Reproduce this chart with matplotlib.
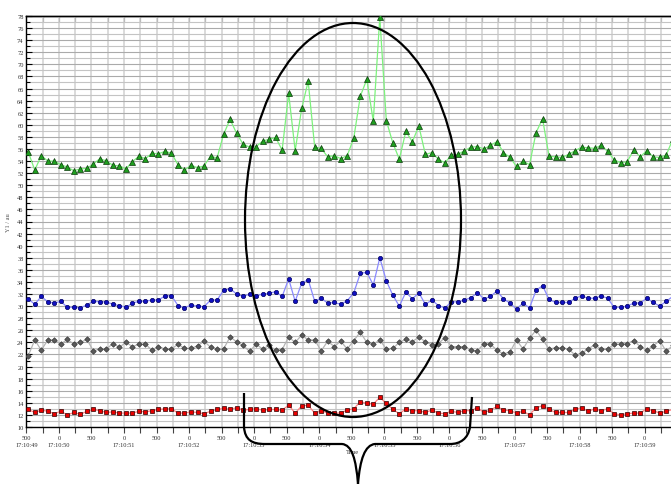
import numpy as np
import matplotlib
matplotlib.use("Agg")
import matplotlib.pyplot as plt
from matplotlib.patches import Ellipse, PathPatch
from matplotlib.path import Path
from matplotlib.transforms import Affine2D
from matplotlib.ticker import MultipleLocator

# sample times in seconds after 17:10:00, one sample every 100 ms
t0 = 49.53
dt = 0.1

green = [55.5, 52.5, 54.9, 54.0, 54.0, 53.4, 53.0, 52.4, 52.7, 52.8,
         53.5, 54.4, 54.0, 53.3, 53.2, 52.7, 53.9, 54.8, 54.4, 55.3,
         55.2, 55.6, 55.3, 53.4, 52.5, 53.3, 52.9, 53.2, 54.8, 54.5,
         58.4, 60.9, 58.6, 56.8, 56.3, 56.4, 57.3, 57.6, 57.9, 55.8,
         65.2, 55.7, 62.7, 67.2, 56.3, 56.1, 54.7, 54.9, 54.4, 54.9,
         57.8, 64.7, 67.5, 60.6, 77.8, 60.7, 57.0, 54.3, 58.9, 57.2,
         59.8, 55.1, 55.4, 54.3, 53.7, 55.0, 55.1, 55.7, 56.3, 56.4,
         56.0, 56.6, 57.2, 55.4, 54.6, 53.1, 54.0, 53.4, 58.7, 61.0,
         54.8, 54.7, 54.6, 55.1, 55.7, 56.3, 56.2, 56.1, 56.6, 55.6,
         54.2, 53.7, 53.9, 55.8, 54.7, 55.7, 54.7, 54.6, 55.0, 57.6]

blue = [31.2, 30.3, 31.6, 30.7, 30.5, 30.8, 29.8, 29.8, 29.7, 30.2,
        30.8, 30.7, 30.7, 30.3, 30.1, 29.8, 30.5, 30.8, 30.8, 31.0,
        31.0, 31.7, 31.7, 30.1, 29.7, 30.2, 30.0, 29.9, 31.0, 31.0,
        32.6, 32.9, 32.0, 31.6, 32.0, 31.7, 32.0, 32.1, 32.4, 31.6,
        34.5, 30.8, 33.8, 34.4, 30.8, 31.3, 30.5, 30.6, 30.3, 30.9,
        32.2, 35.4, 35.6, 33.5, 38.0, 34.2, 31.8, 30.0, 32.3, 31.2,
        32.2, 30.3, 31.0, 30.1, 29.7, 30.7, 30.7, 31.0, 31.4, 32.2,
        31.2, 31.6, 32.5, 31.2, 30.5, 29.5, 30.5, 29.7, 32.6, 33.4,
        31.1, 30.6, 30.6, 30.6, 31.3, 31.7, 31.3, 31.3, 31.7, 31.3,
        29.8, 29.8, 30.0, 30.5, 30.5, 31.3, 30.6, 30.0, 30.8, 31.6]

gray = [21.8, 24.4, 22.7, 24.4, 24.4, 23.7, 24.5, 23.7, 24.0, 24.5,
        22.6, 22.9, 22.9, 23.8, 23.2, 24.0, 23.3, 23.7, 23.7, 22.7,
        23.3, 22.9, 22.9, 23.7, 23.0, 23.0, 23.4, 24.2, 23.2, 22.9,
        22.9, 24.9, 24.1, 23.5, 22.5, 23.7, 22.9, 23.5, 22.7, 22.8,
        24.9, 24.0, 25.2, 24.4, 24.4, 22.6, 24.2, 23.3, 24.2, 22.9,
        24.3, 25.7, 24.0, 23.7, 24.4, 22.9, 23.0, 24.0, 24.5, 24.1,
        24.9, 24.1, 23.6, 23.8, 24.8, 23.3, 23.3, 23.3, 22.7, 22.6,
        23.8, 23.7, 22.7, 22.1, 22.4, 24.4, 22.9, 24.7, 26.0, 24.5,
        22.9, 23.1, 23.1, 22.9, 21.9, 22.2, 22.9, 23.6, 22.9, 22.9,
        23.7, 23.7, 23.8, 24.3, 23.3, 22.7, 23.4, 24.3, 22.5, 23.5]

red = [12.9, 12.4, 12.8, 12.6, 12.2, 12.6, 12.0, 12.4, 12.1, 12.6,
       12.9, 12.7, 12.4, 12.5, 12.3, 12.3, 12.3, 12.6, 12.5, 12.7,
       12.9, 13.0, 13.0, 12.3, 12.3, 12.5, 12.4, 12.2, 12.6, 12.9,
       13.1, 12.9, 13.2, 12.8, 12.9, 13.0, 12.8, 12.9, 12.9, 12.8,
       13.6, 12.3, 13.5, 13.6, 12.3, 12.7, 12.3, 12.3, 12.3, 12.8,
       13.0, 14.2, 13.9, 13.8, 14.9, 13.9, 12.9, 12.2, 13.0, 12.7,
       12.7, 12.4, 12.8, 12.3, 12.2, 12.6, 12.4, 12.7, 12.7, 13.2,
       12.4, 12.8, 13.4, 12.8, 12.7, 12.3, 12.6, 12.0, 13.2, 13.5,
       12.9, 12.4, 12.4, 12.4, 12.9, 13.2, 12.6, 13.0, 12.7, 13.0,
       12.2, 12.0, 12.2, 12.3, 12.3, 13.0, 12.7, 12.3, 12.6, 12.9]

tick_times = [49.5, 50.0, 50.5, 51.0, 51.5, 52.0, 52.5, 53.0, 53.5, 54.0,
              54.5, 55.0, 55.5, 56.0, 56.5, 57.0, 57.5, 58.0, 58.5, 59.0]
tick_labels = ["500\n17:10:49", "0\n17:10:50", "500", "0\n17:10:51", "500",
               "0\n17:10:52", "500", "0\n17:10:53", "500", "0\n17:10:54",
               "500", "0\n17:10:55", "500", "0\n17:10:56", "500",
               "0\n17:10:57", "500", "0\n17:10:58", "500", "0\n17:10:59"]

t = t0 + dt * np.arange(len(green))

W, H = 671, 485
fig = plt.figure(figsize=(W / 100, H / 100), dpi=100)
ax = fig.add_axes([26.3 / W, 1 - 428 / H, 1 - 26.3 / W, 411 / H])

ax.plot(t, green, color="#7df27d", lw=0.9, marker="^", ms=4.0,
        mfc="#1f9f1f", mec="#0a3a0a", mew=0.5, zorder=3)
ax.plot(t, blue, color="#8a8aff", lw=0.9, marker="o", ms=3.1,
        mfc="#1010c0", mec="#000060", mew=0.5, zorder=3)
ax.plot(t, gray, color="#b4b4b4", lw=0.9, marker="D", ms=2.8,
        mfc="#5a5a5a", mec="#3a3a3a", mew=0.5, zorder=3)
ax.plot(t, red, color="#ff8080", lw=0.9, marker="s", ms=3.0,
        mfc="#e80000", mec="#300000", mew=0.5, zorder=3)

ax.set_xlim(49.5, 49.5 + (W - 26.3) / 65.1)
ax.set_ylim(10, 78)

ax.set_xticks(tick_times)
ax.set_xticklabels(tick_labels, family="Liberation Serif", fontsize=4.6,
                   color="#333333", linespacing=1.5)
ax.xaxis.set_minor_locator(MultipleLocator(0.25))
ax.set_yticks(np.arange(10, 79, 2))
ax.set_yticklabels([str(v) for v in range(10, 79, 2)],
                   family="Liberation Serif", fontsize=4.6, color="#333333")
ax.yaxis.set_minor_locator(MultipleLocator(1))

ax.tick_params(axis="x", which="both", direction="out", length=4,
               width=0.8, color="#444444", pad=2)
ax.tick_params(axis="y", which="major", direction="in", length=4,
               width=0.8, pad=2)
ax.tick_params(axis="y", which="minor", direction="in", length=3, width=0.8)

top = ax.secondary_xaxis("top")
top.set_xticks(np.arange(49.5, 59.5, 0.25))
top.tick_params(direction="in", length=4, width=0.8, color="#444444",
                labeltop=False)
top.spines["top"].set_linewidth(1.0)

ax.grid(True, which="major", axis="y", color="#aaaaaa", lw=0.8)
ax.grid(True, which="minor", axis="y", color="#c4c4c4", lw=0.8)
ax.grid(True, which="both", axis="x", color="#d4d4d4", lw=1.2)
ax.set_axisbelow(True)
ax.spines["right"].set_visible(False)
for s in ("left", "bottom", "top"):
    ax.spines[s].set_linewidth(1.0)

ax.set_ylabel("Y1 / au", family="Liberation Serif", fontsize=4.6,
              color="#555555", labelpad=4)
fig.text(352 / W, 1 - 453 / H, "Time", family="Liberation Serif",
         fontsize=4.6, color="#333333", ha="center", va="center")

# hand-drawn annotation, in pixel coordinates of the picture
px = Affine2D().scale(1 / W, -1 / H).translate(0, 1) + fig.transFigure
ring = Ellipse((353, 221), 216, 394, transform=px, fill=False,
               ec="black", lw=1.6, zorder=10)
fig.patches.append(ring)

verts = [(244, 394), (244, 428), (245, 441), (252, 445), (265, 445),
         (342, 445), (352, 446), (356, 460), (358, 485),
         (472, 398), (470, 428), (468, 440), (460, 445), (450, 445),
         (375, 445), (365, 446), (360, 460), (358, 485)]
codes = [Path.MOVETO, Path.LINETO, Path.CURVE4, Path.CURVE4, Path.CURVE4,
         Path.LINETO, Path.CURVE4, Path.CURVE4, Path.CURVE4] * 2
brace = PathPatch(Path(verts, codes), transform=px, fill=False,
                  ec="black", lw=1.6, zorder=10)
fig.patches.append(brace)

fig.savefig("out.png", dpi=100)
